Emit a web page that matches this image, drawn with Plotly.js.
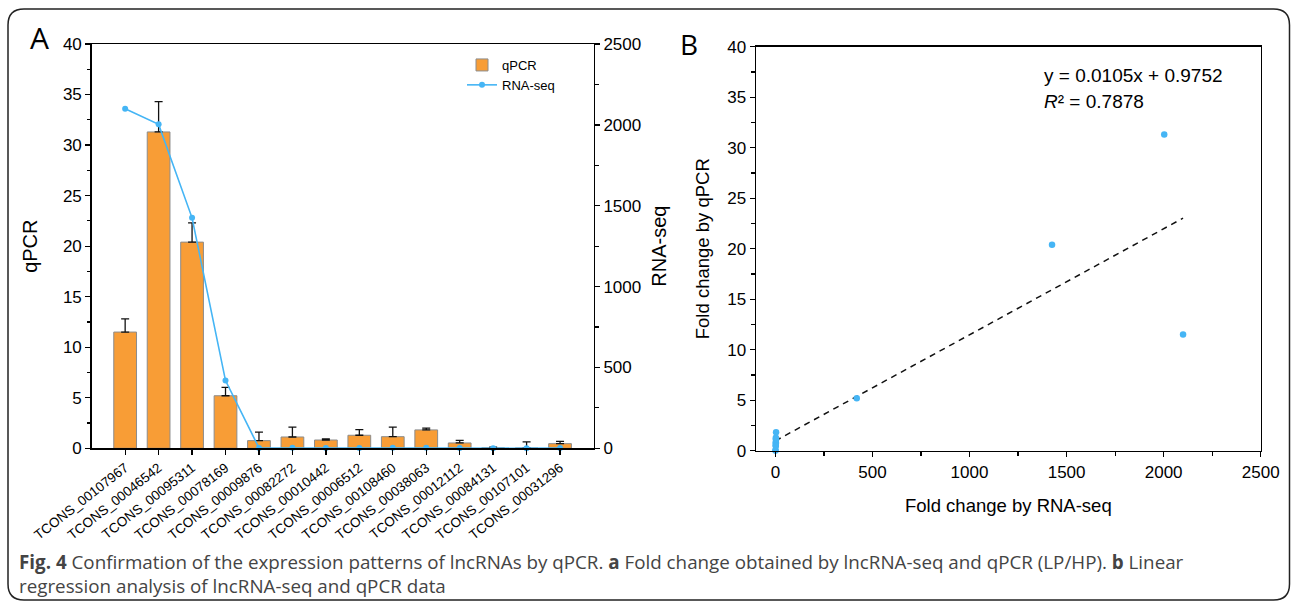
<!DOCTYPE html>
<html>
<head>
<meta charset="utf-8">
<script src="https://cdn.plot.ly/plotly-3.0.1.min.js"></script>
<style>
html,body{margin:0;padding:0;background:#fff;}
#chart{width:1293px;height:605px;}
</style>
</head>
<body>
<div id="chart"></div>
<script>
// ---- data ----
const categories = ['TCONS_00107967','TCONS_00046542','TCONS_00095311','TCONS_00078169','TCONS_00009876','TCONS_00082272','TCONS_00010442','TCONS_00006512','TCONS_00108460','TCONS_00038063','TCONS_00012112','TCONS_00084131','TCONS_00107101','TCONS_00031296'];
const qpcr    = [11.5, 31.3, 20.4, 5.2, 0.76, 1.12, 0.82, 1.29, 1.15, 1.82, 0.53, 0.05, 0.03, 0.46];
const qpcrErr = [1.3, 3.0, 1.9, 0.83, 0.84, 0.98, 0.10, 0.56, 0.95, 0.18, 0.26, 0.07, 0.60, 0.23];
const rnaSeq  = [2100, 2003, 1425, 419, 2.6, 3.1, 1.8, 2.2, 2.9, 3.4, 1.5, 0.4, 0.6, 2.0];
const fitSlope = 0.0105;
const fitIntercept = 0.9752;
const fitLabel = 'y = 0.0105x + 0.9752';
const r2Label = '<i>R</i>² = 0.7878';
const captionLine1 = '<b>Fig. 4</b> Confirmation of the expression patterns of lncRNAs by qPCR. <b>a</b> Fold change obtained by lncRNA-seq and qPCR (LP/HP). <b>b</b> Linear';
const captionLine2 = 'regression analysis of lncRNA-seq and qPCR data';

// ---- styles ----
const W = 1293, H = 605;
const px = v => v / W;
const py = v => 1 - v / H;
const ORANGE = '#F89D36';
const BLUE = '#45B5F5';
const AX = 'Liberation Sans, Arial, sans-serif';
const CAP = 'Open Sans, Noto Sans, sans-serif';

const fitX = [0, Math.max(...rnaSeq)];
const fitY = fitX.map(x => fitSlope * x + fitIntercept);

const traces = [
  {
    type: 'bar', name: 'qPCR', x: categories, y: qpcr,
    xaxis: 'x', yaxis: 'y', width: 0.68,
    marker: {color: ORANGE, line: {color: '#8c8c8c', width: 1}},
    error_y: {type: 'data', symmetric: false, array: qpcrErr, arrayminus: qpcrErr.map(() => 0),
              color: '#111', thickness: 1.3, width: 4}
  },
  {
    type: 'scatter', mode: 'lines+markers', name: 'RNA-seq', x: categories, y: rnaSeq,
    xaxis: 'x', yaxis: 'y2', cliponaxis: false,
    line: {color: BLUE, width: 1.6}, marker: {color: BLUE, size: 6}
  },
  {
    type: 'scatter', mode: 'lines', x: fitX, y: fitY, xaxis: 'x2', yaxis: 'y3',
    showlegend: false, line: {color: '#111', width: 1.5, dash: '6px,5px'}
  },
  {
    type: 'scatter', mode: 'markers', x: rnaSeq, y: qpcr, xaxis: 'x2', yaxis: 'y3',
    showlegend: false, cliponaxis: false, marker: {color: BLUE, size: 6.5}
  }
];

const axBase = {
  showline: true, linecolor: '#000', linewidth: 1.5, ticks: 'outside', ticklen: 5,
  tickwidth: 1.3, tickcolor: '#000', showgrid: false, zeroline: false,
  tickfont: {family: AX, size: 17, color: '#000'}
};

const frame = (() => {
  const L = px(8), R = px(1289.5), T = py(9), B = py(600);
  const rx = 16 / W, ry = 16 / H;
  return `M ${L},${T - ry} Q ${L},${T} ${L + rx},${T} L ${R - rx},${T} Q ${R},${T} ${R},${T - ry} ` +
         `L ${R},${B + ry} Q ${R},${B} ${R - rx},${B} L ${L + rx},${B} Q ${L},${B} ${L},${B + ry} Z`;
})();

const layout = {
  width: W, height: H,
  margin: {l: 0, r: 0, t: 0, b: 0},
  paper_bgcolor: '#fff', plot_bgcolor: '#fff',
  showlegend: true,
  legend: {x: px(462), y: py(50), xanchor: 'left', yanchor: 'top', bgcolor: 'rgba(0,0,0,0)',
           font: {family: AX, size: 13, color: '#000'}, tracegroupgap: 0, itemwidth: 30},
  bargap: 0.3,
  xaxis: Object.assign({}, axBase, {
    domain: [px(91.7), px(593.5)], anchor: 'y', type: 'category', range: [-1, 14],
    mirror: true, tickangle: -38, tickfont: {family: AX, size: 13.5, color: '#000'}
  }),
  yaxis: Object.assign({}, axBase, {
    domain: [1 - 448.3 / H, 1 - 44 / H], anchor: 'x', range: [0, 40], dtick: 5,
    minor: {dtick: 2.5, ticks: 'outside', ticklen: 3.5, tickcolor: '#000', tickwidth: 1.2},
    title: {text: 'qPCR', font: {family: AX, size: 20, color: '#000'}, standoff: 20}
  }),
  yaxis2: Object.assign({}, axBase, {
    overlaying: 'y', side: 'right', anchor: 'x', range: [0, 2500], dtick: 500,
    minor: {dtick: 250, ticks: 'outside', ticklen: 3.5, tickcolor: '#000', tickwidth: 1.2},
    title: {text: 'RNA-seq', font: {family: AX, size: 20, color: '#000'}, standoff: 12}
  }),
  xaxis2: Object.assign({}, axBase, {
    domain: [px(756), px(1260.7)], anchor: 'y3', range: [-100, 2500], dtick: 500, mirror: true,
    minor: {dtick: 250, ticks: 'outside', ticklen: 3.5, tickcolor: '#000', tickwidth: 1.2},
    title: {text: 'Fold change by RNA-seq', font: {family: AX, size: 18.5, color: '#000'}, standoff: 18}
  }),
  yaxis3: Object.assign({}, axBase, {
    domain: [1 - 450.7 / H, 1 - 46.7 / H], anchor: 'x2', range: [0, 40], dtick: 5, mirror: true,
    minor: {dtick: 2.5, ticks: 'outside', ticklen: 3.5, tickcolor: '#000', tickwidth: 1.2},
    title: {text: 'Fold change by qPCR', font: {family: AX, size: 18.5, color: '#000'}, standoff: 12}
  }),
  shapes: [
    {type: 'path', xref: 'paper', yref: 'paper', path: frame, line: {color: '#222', width: 1.5}}
  ],
  annotations: [
    {text: 'A', xref: 'paper', yref: 'paper', x: px(39), y: py(37), xanchor: 'center', yanchor: 'middle',
     showarrow: false, font: {family: CAP, size: 30, color: '#000'}},
    {text: 'B', xref: 'paper', yref: 'paper', x: px(689), y: py(44), xanchor: 'center', yanchor: 'middle',
     showarrow: false, font: {family: CAP, size: 28, color: '#000'}},
    {text: fitLabel, xref: 'paper', yref: 'paper', x: px(1042), y: py(75), xanchor: 'left', yanchor: 'middle',
     showarrow: false, font: {family: AX, size: 19, color: '#000'}},
    {text: r2Label, xref: 'paper', yref: 'paper', x: px(1042), y: py(101), xanchor: 'left', yanchor: 'middle',
     showarrow: false, font: {family: AX, size: 19, color: '#000'}},
    {text: captionLine1, xref: 'paper', yref: 'paper', x: px(17), y: py(562), xanchor: 'left', yanchor: 'middle',
     showarrow: false, font: {family: CAP, size: 18.8, color: '#444'}},
    {text: captionLine2, xref: 'paper', yref: 'paper', x: px(17), y: py(586), xanchor: 'left', yanchor: 'middle',
     showarrow: false, font: {family: CAP, size: 18.8, color: '#444'}}
  ]
};

Plotly.newPlot('chart', traces, layout, {displayModeBar: false, staticPlot: true});
</script>
</body>
</html>
